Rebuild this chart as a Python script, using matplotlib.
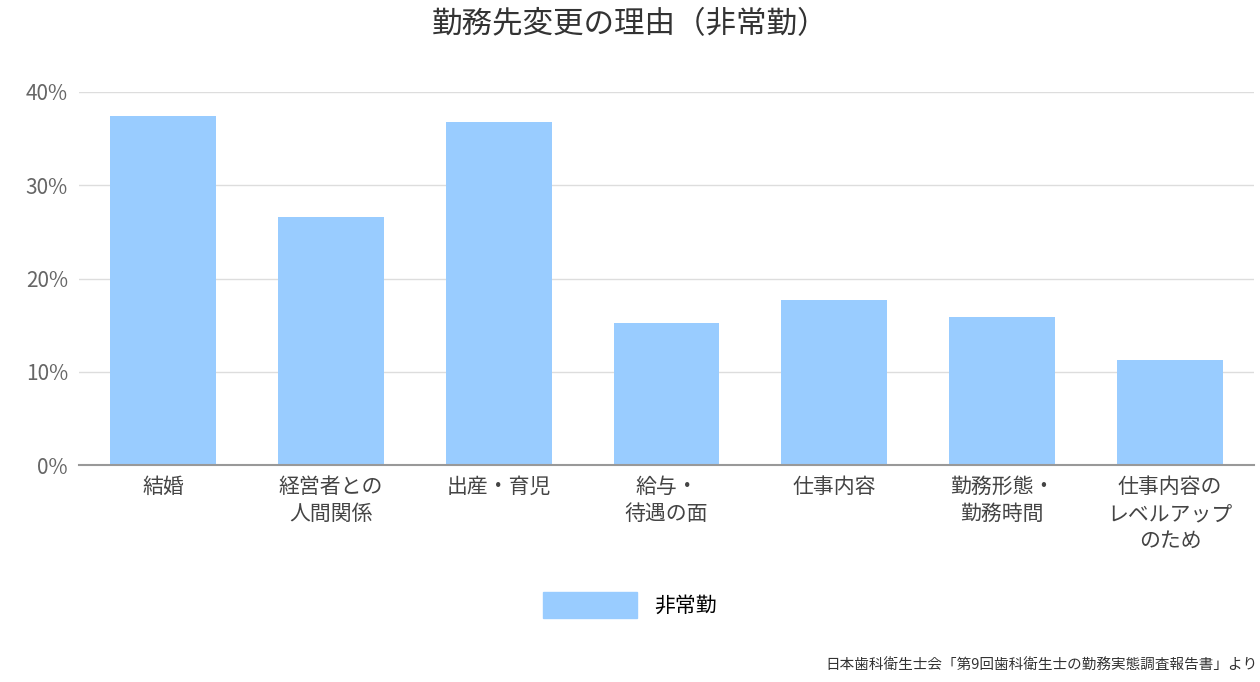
import matplotlib
matplotlib.use("Agg")
import matplotlib.pyplot as plt
from matplotlib.patches import Patch

plt.rcParams['font.family'] = ['Noto Sans CJK JP', 'DejaVu Sans']

categories = ["結婚", "経営者との\n人間関係", "出産・育児", "給与・\n待遇の面", "仕事内容", "勤務形態・\n勤務時間", "仕事内容の\nレベルアップ\nのため"]
values = [37.4, 26.6, 36.8, 15.2, 17.7, 15.9, 11.3]
yticks = [0, 10, 20, 30, 40]
series_name = "非常勤"

fig = plt.figure(figsize=(12.6, 6.82), dpi=100)
ax = fig.add_axes([79/1260, 1-465/682, 1175/1260, 373/682])
x = range(len(categories))
ax.bar(x, values, width=0.63, color="#99ccff", zorder=2)
ax.set_xlim(-0.5, len(categories)-0.5)
ax.set_ylim(0, 40)
ax.set_yticks(yticks)
ax.set_yticklabels([f"{v}%" for v in yticks], fontsize=15, color="#666666")
ax.set_xticks(list(x))
ax.set_xticklabels(categories, fontsize=15, color="#444444", linespacing=1.3)
ax.tick_params(axis='both', length=0, pad=8)
ax.grid(axis='y', color="#dddddd", linewidth=1, zorder=0)
for s in ['top', 'right', 'left']:
    ax.spines[s].set_visible(False)
ax.spines['bottom'].set_color("#999999")
ax.spines['bottom'].set_linewidth(1.5)

fig.text(0.5, 1-25/682, "勤務先変更の理由（非常勤）", ha='center', va='center', fontsize=22, color="#333333")
fig.legend(handles=[Patch(color="#99ccff")], labels=[series_name], loc='center',
           bbox_to_anchor=(0.5, 1-605/682), frameon=False, fontsize=15,
           handlelength=4.5, handleheight=1.6)
fig.text(0.998, 1-666/682, "日本歯科衛生士会「第9回歯科衛生士の勤務実態調査報告書」より",
         ha='right', va='center', fontsize=10.5, color="#333333")
fig.savefig("out.png", dpi=100)
